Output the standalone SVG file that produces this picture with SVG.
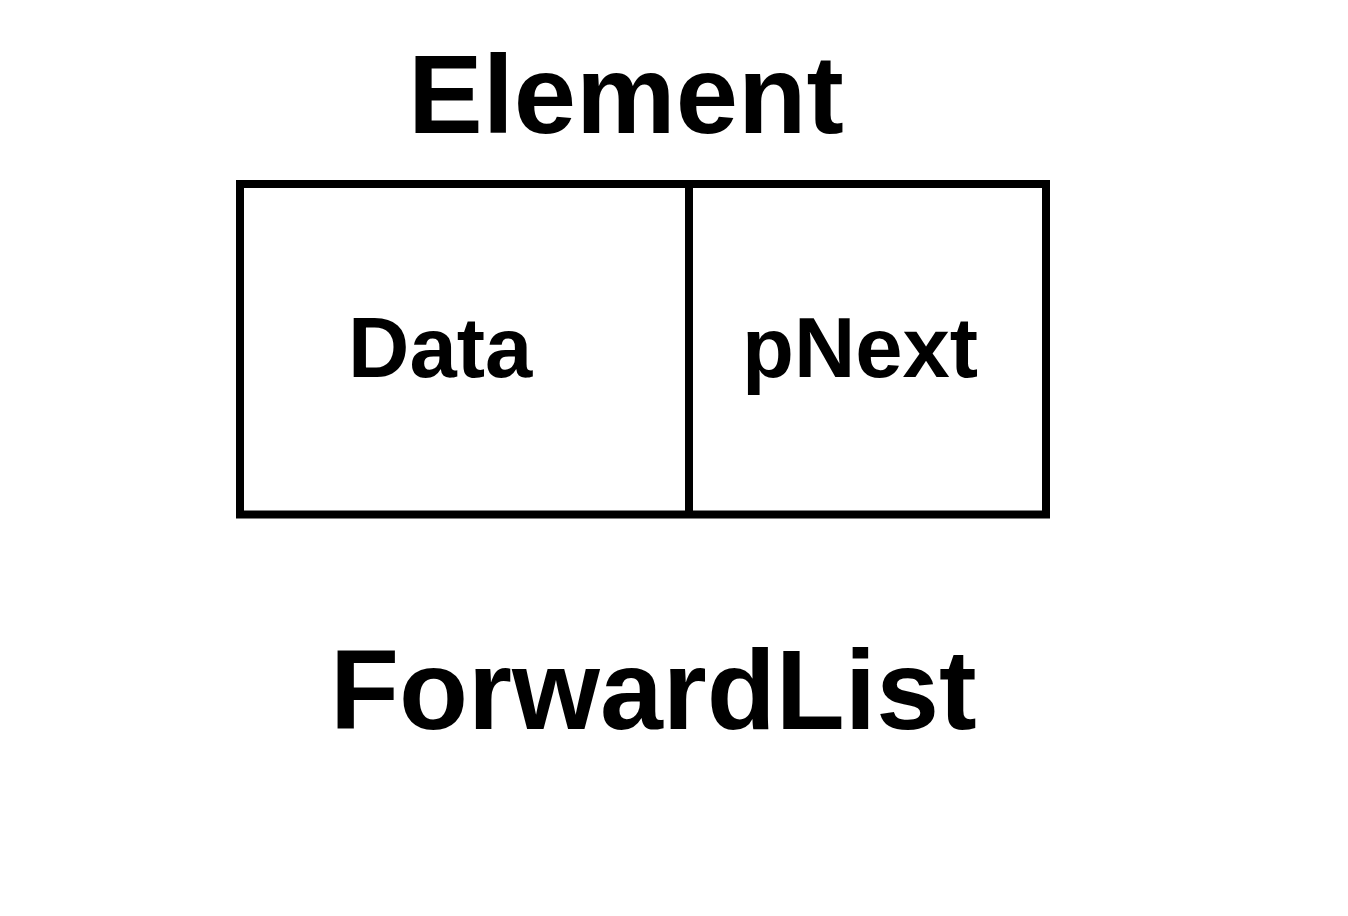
<svg xmlns="http://www.w3.org/2000/svg" width="1348" height="916" viewBox="0 0 1348 916">
<style>
.t{font-family:"Liberation Sans",Arial,sans-serif;font-weight:bold;fill:#000}
.big{font-size:112px}
.mid{font-size:85px}
.box{fill:none;stroke:#000;stroke-width:8}
</style>
<rect width="1348" height="916" fill="#fff"/>
<g id="title-element"><text class="t big" x="408" y="133">Element</text></g>
<g id="element">
<rect class="box" x="240" y="184" width="806" height="330.5"/>
<line class="box" x1="689" y1="184" x2="689" y2="514.5"/>
</g>
<g id="data"><text class="t mid" x="348" y="377">Data</text></g>
<g id="pnext"><text class="t mid" x="742" y="377">pNext</text></g>
<g id="connectors"></g>
<g id="title-forwardlist"><text class="t" style="font-size:113px" x="330" y="729">ForwardList</text></g>
</svg>
